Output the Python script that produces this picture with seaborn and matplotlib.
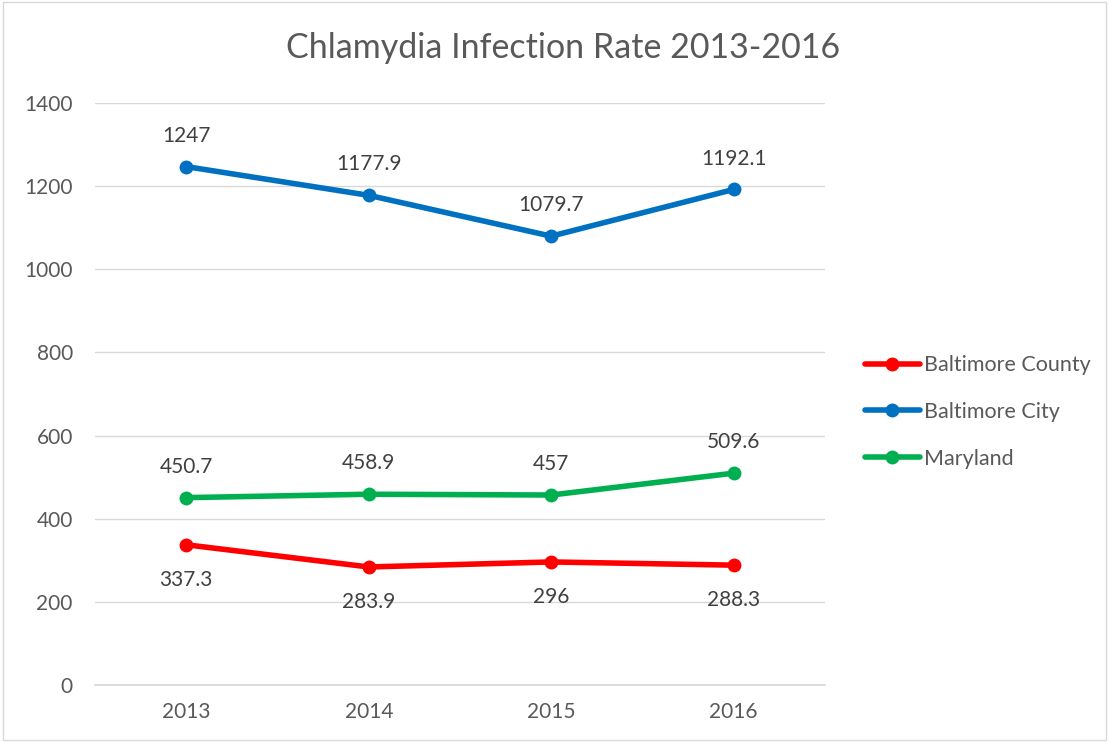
import matplotlib
matplotlib.use("Agg")
import matplotlib.pyplot as plt
import seaborn as sns
import pandas as pd
from matplotlib.patches import Rectangle

years = ["2013", "2014", "2015", "2016"]
series_names = ["Baltimore County", "Baltimore City", "Maryland"]
county = [337.3, 283.9, 296, 288.3]
city = [1247, 1177.9, 1079.7, 1192.1]
maryland = [450.7, 458.9, 457, 509.6]
label_county = ["337.3", "283.9", "296", "288.3"]
label_city = ["1247", "1177.9", "1079.7", "1192.1"]
label_maryland = ["450.7", "458.9", "457", "509.6"]
colors = ["#FF0000", "#0070C0", "#00B050"]

sns.set_theme(style="white")
plt.rcParams['font.family'] = ['Lato', 'DejaVu Sans']

rows = []
for name, vals in zip(series_names, [county, city, maryland]):
    for i, (y, v) in enumerate(zip(years, vals)):
        rows.append({"Year": y, "idx": i, "Rate": v, "Series": name})
df = pd.DataFrame(rows)

fig = plt.figure(figsize=(11.09, 7.42), dpi=100)
ax = fig.add_axes([95/1109, 1-685/742, 730/1109, (685-103)/742])

sns.lineplot(data=df, x="idx", y="Rate", hue="Series", palette=colors,
             hue_order=series_names, marker="o", markersize=10,
             markeredgewidth=0, linewidth=4, ax=ax, legend=True)

ax.set_xlim(-0.5, 3.5)
ax.set_ylim(0, 1400)
ax.set_yticks(range(0, 1401, 200))
ax.set_xticks(range(4))
ax.set_xticklabels(years)
ax.set_xlabel("")
ax.set_ylabel("")
ax.grid(axis="y", color="#D9D9D9", linewidth=1)
ax.set_axisbelow(True)
for s in ["top", "right", "left"]:
    ax.spines[s].set_visible(False)
ax.spines["bottom"].set_color("#D9D9D9")
ax.tick_params(axis="both", length=0, labelsize=15, colors="#595959")
ax.tick_params(axis="x", pad=12)
ax.tick_params(axis="y", pad=16)

txt = dict(ha="center", fontsize=15, color="#404040")
for i in range(4):
    ax.annotate(label_city[i], (i, city[i]), xytext=(0, 15), textcoords="offset points", va="bottom", **txt)
    ax.annotate(label_maryland[i], (i, maryland[i]), xytext=(0, 15), textcoords="offset points", va="bottom", **txt)
    ax.annotate(label_county[i], (i, county[i]), xytext=(0, -18), textcoords="offset points", va="top", **txt)

fig.text(563/1109, 1-48/742, "Chlamydia Infection Rate 2013-2016", ha="center", va="center",
         fontsize=24.5, color="#595959")

leg = ax.legend(loc="center left", bbox_to_anchor=((865-95)/730, (685-412)/582),
                frameon=False, fontsize=15.5, labelcolor="#595959", handlelength=2.55,
                handletextpad=0.2, labelspacing=1.25, borderaxespad=0, borderpad=0)
for h in leg.legend_handles:
    h.set_linewidth(4)
    h.set_markersize(10)

fig.patches.append(Rectangle((0.003, 0.003), 0.994, 0.994, transform=fig.transFigure,
                             fill=False, edgecolor="#D9D9D9", linewidth=1))
fig.savefig("out.png", dpi=100)
